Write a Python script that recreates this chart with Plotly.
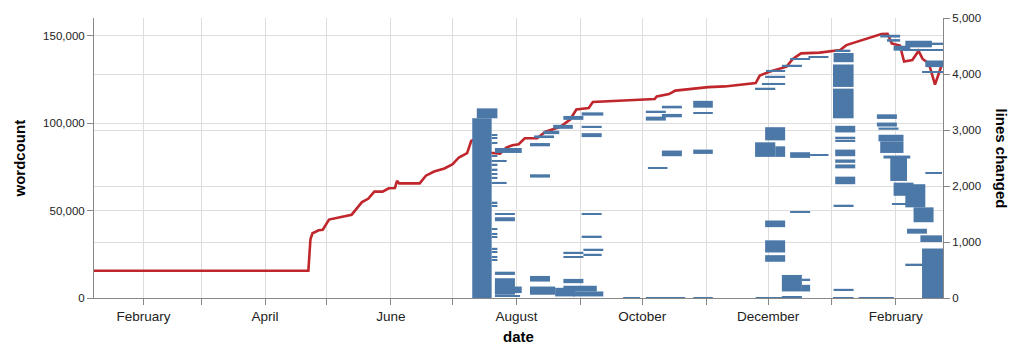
import pandas as pd
import plotly.graph_objects as go

# ---------------- data ----------------
wordcount_dates = [
    "2019-01-08", "2019-04-22", "2019-04-23", "2019-04-24", "2019-04-27", "2019-04-29",
    "2019-05-02", "2019-05-08", "2019-05-13", "2019-05-16", "2019-05-18", "2019-05-21",
    "2019-05-24", "2019-05-28", "2019-05-31", "2019-06-03", "2019-06-04", "2019-06-05",
    "2019-06-15", "2019-06-18", "2019-06-22", "2019-06-27", "2019-07-01", "2019-07-04",
    "2019-07-08", "2019-07-10", "2019-07-14", "2019-07-19", "2019-07-24", "2019-07-27",
    "2019-07-30", "2019-08-02", "2019-08-05", "2019-08-11", "2019-08-15", "2019-08-22",
    "2019-08-27", "2019-08-30", "2019-09-05", "2019-09-07", "2019-10-07", "2019-10-08",
    "2019-10-14", "2019-10-17", "2019-10-25", "2019-11-02", "2019-11-10", "2019-11-25",
    "2019-11-27", "2019-12-02", "2019-12-10", "2019-12-13", "2019-12-17", "2019-12-26",
    "2020-01-05", "2020-01-08", "2020-01-25", "2020-01-28", "2020-01-30", "2020-02-03",
    "2020-02-05", "2020-02-09", "2020-02-12", "2020-02-14", "2020-02-17", "2020-02-20",
    "2020-02-23",
]
wordcount_values = [
    15600, 15600, 33600, 37000, 38700, 39000,
    44800, 46300, 47600, 51900, 54800, 56700,
    60800, 60800, 62700, 62900, 67000, 65500,
    65500, 69900, 72300, 74000, 76500, 80300,
    82800, 89700, 92000, 83000, 82500, 86000,
    87300, 87900, 91300, 91300, 95000, 97700,
    102000, 107700, 108600, 112000, 113700, 115200,
    116500, 118500, 119600, 120500, 120900, 122800,
    127100, 129400, 132200, 136600, 139800, 140200,
    141700, 144500, 150800, 151000, 145500, 144200,
    135100, 136000, 141200, 136600, 134100, 121900,
    132300,
]

# lines changed: (start, end, low line, high line)
july_changes = [
    ("2019-07-10T12", "2019-07-19T22", 0, 3209),
    ("2019-07-12T17", "2019-07-22T17", 3209, 3386),
    ("2019-07-19T22", "2019-07-22T17", 2903, 2928),
    ("2019-07-19T22", "2019-07-22T17", 2844, 2869),
    ("2019-07-19T22", "2019-07-22T17", 2755, 2780),
    ("2019-07-19T22", "2019-07-22T17", 2520, 2545),
    ("2019-07-19T22", "2019-07-27T05", 2432, 2457),
    ("2019-07-19T22", "2019-07-22T17", 2373, 2398),
    ("2019-07-19T22", "2019-07-22T17", 2285, 2310),
    ("2019-07-19T22", "2019-07-22T17", 2197, 2222),
    ("2019-07-19T22", "2019-07-22T17", 2138, 2163),
    ("2019-07-19T22", "2019-07-27T05", 2048, 2073),
    ("2019-07-19T22", "2019-07-22T17", 1695, 1720),
    ("2019-07-19T22", "2019-07-22T17", 1637, 1662),
    ("2019-07-19T22", "2019-07-22T17", 1225, 1250),
    ("2019-07-19T22", "2019-07-22T17", 1137, 1162),
    ("2019-07-19T22", "2019-07-22T17", 1076, 1101),
    ("2019-07-19T22", "2019-07-22T17", 871, 896),
    ("2019-07-19T22", "2019-07-22T17", 811, 836),
    ("2019-07-19T22", "2019-07-22T17", 723, 748),
    ("2019-07-19T22", "2019-07-22T17", 665, 690),
    ("2019-07-21T12", "2019-08-03T12", 2590, 2679),
    ("2019-07-21T12", "2019-07-31T05", 1490, 1515),
    ("2019-07-21T12", "2019-07-31T05", 1371, 1442),
    ("2019-07-21T12", "2019-07-31T05", 412, 470),
    ("2019-07-21T12", "2019-07-31T05", 58, 353),
    ("2019-07-21T12", "2019-08-03T12", 88, 205),
    ("2019-07-21T12", "2019-08-02T17", 20, 45),
]
august_changes = [
    ("2019-08-07T12", "2019-08-17T05", 2709, 2767),
    ("2019-08-07T12", "2019-08-17T05", 2150, 2209),
    ("2019-08-09T12", "2019-08-19T05", 2856, 2903),
    ("2019-08-14T00", "2019-08-21T17", 2926, 2986),
    ("2019-08-18T19", "2019-08-28T07", 3021, 3092),
    ("2019-08-23T17", "2019-09-02T10", 3181, 3251),
    ("2019-09-01T14", "2019-09-12T02", 3257, 3315),
    ("2019-09-01T14", "2019-09-11T07", 3050, 3075),
    ("2019-09-01T14", "2019-09-11T07", 2873, 2944),
    ("2019-09-01T14", "2019-09-11T07", 1490, 1515),
    ("2019-09-01T14", "2019-09-11T07", 1088, 1113),
    ("2019-09-02T10", "2019-09-12T02", 855, 880),
    ("2019-09-02T10", "2019-09-11T07", 765, 790),
    ("2019-08-23T17", "2019-09-02T10", 800, 825),
    ("2019-08-23T17", "2019-09-02T10", 722, 747),
    ("2019-08-07T12", "2019-08-17T05", 293, 394),
    ("2019-08-07T12", "2019-08-19T17", 58, 205),
    ("2019-08-19T17", "2019-08-29T10", 28, 182),
    ("2019-08-23T17", "2019-09-02T10", 265, 341),
    ("2019-08-23T17", "2019-09-08T22", 117, 217),
    ("2019-08-28T12", "2019-09-12T02", 28, 117),
]
october_changes = [
    ("2019-10-02T17", "2019-10-12T10", 3310, 3345),
    ("2019-10-10T12", "2019-10-20T05", 3386, 3433),
    ("2019-10-02T17", "2019-10-12T10", 3168, 3239),
    ("2019-10-10T12", "2019-10-20T05", 3227, 3287),
    ("2019-10-25T17", "2019-11-04T05", 3398, 3521),
    ("2019-10-25T17", "2019-11-04T05", 3298, 3322),
    ("2019-10-10T12", "2019-10-20T05", 2532, 2633),
    ("2019-10-03T17", "2019-10-13T05", 2314, 2338),
    ("2019-10-25T17", "2019-11-04T05", 2573, 2650),
]
december_changes = [
    ("2019-11-24T17", "2019-12-04T12", 3730, 3755),
    ("2019-11-28T00", "2019-12-09T07", 3815, 3840),
    ("2019-11-29T14", "2019-12-09T07", 3942, 3968),
    ("2019-11-30T00", "2019-12-09T07", 4048, 4073),
    ("2019-12-07T17", "2019-12-17T10", 4140, 4165),
    ("2019-12-11T17", "2019-12-21T10", 4260, 4285),
    ("2019-12-20T14", "2019-12-30T07", 4286, 4311),
    ("2019-11-29T14", "2019-12-09T07", 2815, 3050),
    ("2019-11-24T17", "2019-12-04T12", 2520, 2780),
    ("2019-12-04T12", "2019-12-09T07", 2520, 2709),
    ("2019-12-11T17", "2019-12-21T10", 2502, 2603),
    ("2019-12-21T10", "2019-12-30T07", 2543, 2567),
    ("2019-12-11T17", "2019-12-21T10", 1518, 1543),
    ("2019-11-29T14", "2019-12-09T07", 1265, 1384),
    ("2019-11-29T14", "2019-12-09T07", 813, 1030),
    ("2019-11-29T14", "2019-12-09T07", 647, 765),
    ("2019-12-07T17", "2019-12-17T10", 117, 412),
    ("2019-12-17T10", "2019-12-21T10", 320, 345),
    ("2019-12-17T10", "2019-12-21T10", 117, 235),
    ("2019-12-07T17", "2019-12-17T10", 0, 28),
]
january_changes = [
    ("2020-01-02T14", "2020-01-09T22", 4410, 4435),
    ("2020-01-01T19", "2020-01-11T12", 4211, 4375),
    ("2020-01-01T12", "2020-01-11T12", 3769, 4170),
    ("2020-01-01T12", "2020-01-11T12", 3209, 3739),
    ("2020-01-02T14", "2020-01-12T07", 2956, 3075),
    ("2020-01-02T14", "2020-01-12T07", 2856, 2880),
    ("2020-01-02T14", "2020-01-12T07", 2803, 2827),
    ("2020-01-02T14", "2020-01-12T07", 2532, 2650),
    ("2020-01-02T14", "2020-01-12T07", 2414, 2474),
    ("2020-01-02T14", "2020-01-12T07", 2315, 2385),
    ("2020-01-02T14", "2020-01-12T07", 2032, 2167),
    ("2020-01-01T19", "2020-01-11T12", 1631, 1666),
    ("2020-01-01T19", "2020-01-11T12", 129, 164),
]
february_changes = [
    ("2020-01-24T10", "2020-02-03T02", 4652, 4700),
    ("2020-01-27T17", "2020-02-03T02", 4577, 4623),
    ("2020-01-30T22", "2020-02-08T00", 4417, 4505),
    ("2020-02-05T14", "2020-02-18T12", 4476, 4594),
    ("2020-02-03T02", "2020-02-24T00", 4417, 4440),
    ("2020-02-16T02", "2020-02-27T10", 4530, 4560),
    ("2020-02-15T07", "2020-02-24T00", 4123, 4241),
    ("2020-02-13T17", "2020-02-24T00", 4022, 4046),
    ("2020-01-22T19", "2020-02-01T12", 3198, 3280),
    ("2020-01-22T19", "2020-02-01T12", 3062, 3133),
    ("2020-01-23T14", "2020-02-02T07", 3004, 3044),
    ("2020-01-23T14", "2020-02-04T17", 2797, 2915),
    ("2020-01-24T10", "2020-02-04T17", 2590, 2797),
    ("2020-01-26T00", "2020-02-08T00", 2491, 2544),
    ("2020-01-29T07", "2020-02-06T10", 2090, 2502),
    ("2020-01-30T22", "2020-02-09T14", 1825, 2060),
    ("2020-01-30T02", "2020-02-06T10", 1667, 1691),
    ("2020-02-05T14", "2020-02-15T07", 1619, 2032),
    ("2020-02-09T14", "2020-02-19T07", 1353, 1619),
    ("2020-02-06T10", "2020-02-16T02", 1149, 1237),
    ("2020-02-12T22", "2020-02-23T10", 1000, 1119),
    ("2020-02-13T17", "2020-02-24T00", 0, 883),
    ("2020-02-05T14", "2020-02-15T07", 589, 613),
    ("2020-02-15T07", "2020-02-23T10", 2225, 2250),
    ("2020-02-17T17", "2020-02-27T10", 28, 853),
]
near_zero_changes = [
    ("2019-09-21T17", "2019-09-29T22", 0, 10),
    ("2019-10-02T17", "2019-10-21T19", 0, 10),
    ("2019-10-25T17", "2019-11-04T05", 0, 10),
    ("2019-11-25T00", "2019-12-14T00", 0, 10),
    ("2020-01-01T12", "2020-01-11T12", 0, 10),
    ("2020-01-14T00", "2020-01-31T00", 0, 10),
]

month_ticks = pd.date_range("2019-02-01", "2020-02-01", freq="MS")
month_labels = ["February", "", "April", "", "June", "", "August", "",
                "October", "", "December", "", "February"]

x_range = ["2019-01-08", "2020-02-23T21:00"]

# ---------------- figure ----------------
FONT = "Liberation Sans, Arial, Helvetica, sans-serif"
BLUE = "#4c78a8"
RED = "#c0272d"

all_changes = (july_changes + august_changes + october_changes + december_changes
               + january_changes + february_changes + near_zero_changes)
starts = pd.to_datetime([c[0] for c in all_changes])
ends = pd.to_datetime([c[1] for c in all_changes])
durations = [(e - s).total_seconds() * 1000 for s, e in zip(starts, ends)]
centers = [(c[2] + c[3]) / 2 for c in all_changes]
heights = [max(c[3] - c[2], 10) for c in all_changes]

fig = go.Figure()
fig.add_trace(go.Scatter(
    x=wordcount_dates, y=wordcount_values, mode="lines",
    line=dict(color=RED, width=2.6), yaxis="y", xaxis="x",
    hoverinfo="skip", showlegend=False,
))
fig.add_trace(go.Bar(
    orientation="h",
    base=[s.strftime("%Y-%m-%d %H:%M") for s in starts],
    x=durations, y=centers, width=heights,
    marker=dict(color=BLUE, line=dict(width=0)),
    yaxis="y2", xaxis="x", showlegend=False, hoverinfo="skip",
))

axis_common = dict(showgrid=True, gridcolor="#dddddd", gridwidth=1,
                   showline=True, linecolor="#888888", linewidth=1,
                   ticks="outside", tickcolor="#888888", ticklen=6,
                   zeroline=False)

fig.update_layout(
    width=1024, height=354,
    margin=dict(l=94, r=81, t=15, b=56),
    paper_bgcolor="white", plot_bgcolor="white",
    barmode="overlay",
    font=dict(family=FONT, color="#222222"),
    xaxis=dict(type="date", range=x_range, tickvals=month_ticks,
               ticktext=month_labels, tickfont=dict(size=13.5),
               **axis_common),
    yaxis=dict(range=[0, 160000], tickvals=[0, 50000, 100000, 150000],
               tickformat=",", tickfont=dict(size=11.5), **axis_common),
    yaxis2=dict(range=[0, 5000], tickvals=[0, 1000, 2000, 3000, 4000, 5000],
                tickformat=",", overlaying="y", side="right",
                tickfont=dict(size=11.5), **axis_common),
    annotations=[
        dict(text="<b>wordcount</b>", x=19, y=157, showarrow=False,
             textangle=-90, font=dict(size=15, color="#000")),
        dict(text="<b>date</b>", x=518, y=337, showarrow=False,
             font=dict(size=15, color="#000")),
        dict(text="<b>lines changed</b>", x=1002, y=157, showarrow=False,
             textangle=90, font=dict(size=15, color="#000")),
    ],
)

# convert pixel positions of titles to paper coords
plot_l, plot_r, plot_t, plot_b = 94, 1024 - 81, 15, 354 - 56
for ann in fig.layout.annotations:
    px_x, px_y = ann.x, ann.y
    ann.xref = "paper"
    ann.yref = "paper"
    ann.x = (px_x - plot_l) / (plot_r - plot_l)
    ann.y = (plot_b - px_y) / (plot_b - plot_t)
    ann.xanchor = "center"
    ann.yanchor = "middle"

fig.write_html("out.html")
